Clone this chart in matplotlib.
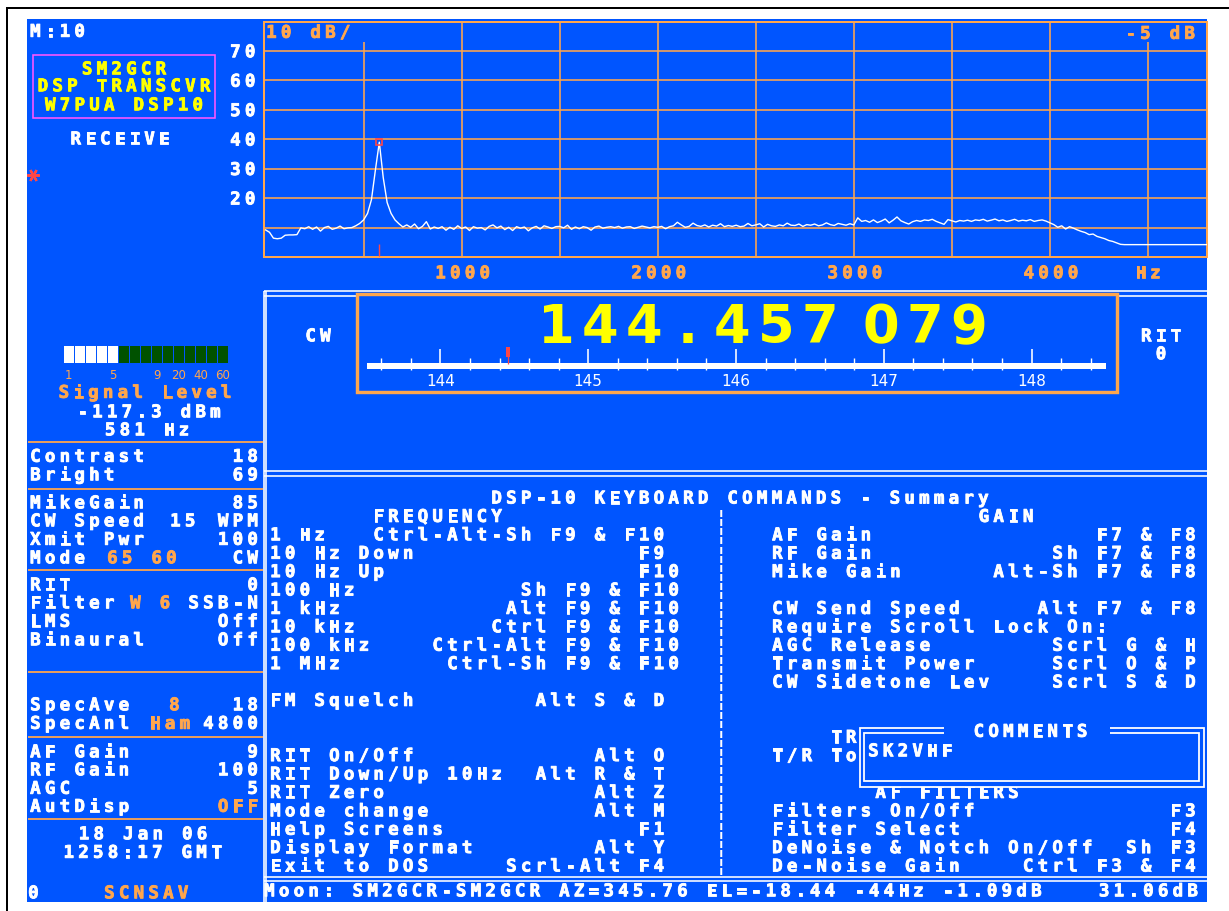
import numpy as np
import matplotlib
matplotlib.use("Agg")
import matplotlib.pyplot as plt
from matplotlib.patches import Rectangle
import matplotlib.patheffects as pe

# ---------------- data ----------------
spec_start_hz = 0
spec_step_hz = 20
spec_levels_db = [
    9.2, 8.4, 6.4, 6.2, 6.4, 7.4, 7.5, 7.5, 7.6, 9.9,
    9.6, 10.3, 9.4, 10.2, 8.8, 10.0, 10.4, 9.4, 9.8, 10.5,
    9.6, 9.9, 10.0, 10.6, 11.4, 12.6, 14.8, 19.5, 29.5, 39.0,
    27.0, 18.5, 14.8, 12.6, 11.3, 10.2, 10.9, 10.1, 11.2, 9.6,
    10.4, 12.0, 9.5, 10.2, 9.7, 10.3, 9.1, 10.1, 9.4, 10.6,
    9.7, 10.2, 9.0, 10.3, 9.8, 10.0, 9.2, 10.4, 10.9, 9.9,
    10.5, 9.3, 10.1, 9.0, 10.3, 9.8, 10.2, 8.9, 9.9, 10.4,
    9.5, 10.6, 10.2, 9.7, 10.3, 10.4, 9.9, 10.8, 9.4, 10.2,
    9.6, 10.3, 10.0, 9.1, 10.2, 10.5, 9.8, 10.1, 10.3, 10.0,
    10.4, 9.8, 10.2, 10.3, 9.7, 10.1, 10.5, 10.2, 9.9, 10.3,
    10.1, 10.4, 9.6, 10.3, 10.6, 11.8, 10.9, 10.1, 10.4, 11.5,
    10.7, 10.4, 10.9, 10.2, 10.8, 10.5, 11.3, 10.3, 10.7, 10.4,
    10.8, 10.3, 10.5, 11.4, 10.6, 10.9, 11.3, 10.2, 11.1, 10.6,
    10.4, 10.9, 10.6, 11.5, 10.8, 10.7, 11.2, 10.4, 11.0, 10.8,
    11.2, 10.6, 10.9, 11.6, 11.0, 10.7, 11.4, 11.1, 10.8, 11.3,
    10.9, 13.3, 12.1, 12.4, 11.8, 12.6, 11.7, 12.2, 12.9, 11.6,
    12.5, 13.6, 12.3, 11.7, 11.2, 12.0, 12.4, 12.1, 12.6, 12.4,
    12.8, 12.1, 11.6, 11.1, 12.7, 12.3, 11.9, 12.4, 12.2, 12.5,
    12.1, 12.6, 12.4, 12.8, 12.2, 12.5, 12.9, 12.3, 12.6, 12.1,
    12.4, 12.8, 12.2, 12.5, 12.3, 12.7, 12.1, 12.4, 12.6, 12.2,
    11.6, 11.0, 10.1, 10.6, 9.5, 10.3, 9.8, 9.2, 8.7, 8.3,
    7.6, 7.8, 7.0, 6.6, 6.2, 5.6, 5.3, 4.8, 4.3, 4.2,
    4.2, 4.2, 4.2, 4.2, 4.2, 4.2, 4.2, 4.2, 4.2, 4.2,
    4.2, 4.2, 4.2, 4.2, 4.2, 4.2, 4.2, 4.2, 4.2, 4.2,
    4.2,
]
peak_hz = 581
peak_db = 39.0
spec_hz_range = (-8, 4801)
spec_db_range = (0, 80)
db_grid = [10, 20, 30, 40, 50, 60, 70]
db_labels = [20, 30, 40, 50, 60, 70]
hz_grid = [500, 1000, 1500, 2000, 2500, 3000, 3500, 4000, 4500]
hz_labels = [1000, 2000, 3000, 4000]

band_range = (143.5, 148.5)
band_labels = [144, 145, 146, 147, 148]
band_minor = [143.6, 143.8, 144.2, 144.4, 144.6, 144.8, 145.2, 145.4, 145.6, 145.8,
              146.2, 146.4, 146.6, 146.8, 147.2, 147.4, 147.6, 147.8, 148.2, 148.4]
tuned_mhz = 144.457079
freq_text = "144.457 079"

meter_segments = 15
meter_lit = 5
meter_label_text = ["1", "5", "9", "20", "40", "60"]
meter_label_idx = [0, 4, 8, 10, 12, 14]

# ---------------- style ----------------
W, H, DPI = 1229, 912, 100
BLUE = "#0055FF"
ORANGE = "#FFA64D"
WHITE = "#FFFFFF"
YELLOW = "#FFFF00"
MAGENTA = "#FF55FF"
RED = "#FF4646"
DKGREEN = "#005200"
PITCH = 14.75
FS = 12.6
CAP = 12.6
PX = 0.72  # px -> pt

fig = plt.figure(figsize=(W / DPI, H / DPI), dpi=DPI, facecolor="white")


def px_axes(x0, y0, x1, y1, z):
    a = fig.add_axes([x0 / W, 1 - y1 / H, (x1 - x0) / W, (y1 - y0) / H])
    a.set_zorder(z)
    return a


bg = px_axes(0, 0, W, H, 0)
bg.set_xlim(0, W); bg.set_ylim(H, 0); bg.axis("off")
ov = px_axes(0, 0, W, H, 5)
ov.set_xlim(0, W); ov.set_ylim(H, 0); ov.axis("off")
ov.patch.set_visible(False)

# background + frame
bg.add_patch(Rectangle((27, 20), 1180, 883, fc=BLUE, ec="none", zorder=0))
bg.plot([7, 7], [9, 912], color="black", lw=2 * PX, zorder=1)
bg.plot([7, 1229], [9, 9], color="black", lw=2 * PX, zorder=1)

# panel lines
lw_line = 1.6 * PX
bg.hlines([291.5, 296.5], 264, 1207, color=WHITE, lw=lw_line, zorder=1)
bg.hlines([472, 477], 264, 1207, color=WHITE, lw=lw_line, zorder=1)
bg.hlines([878.5, 882], 264, 1207, color=WHITE, lw=lw_line, zorder=1)
bg.vlines([263.5, 266.3], 291.5, 903, color=WHITE, lw=lw_line, zorder=1)
bg.hlines([443, 490, 571, 673, 738, 820], 28, 263, color=ORANGE, lw=1.8 * PX, zorder=1)
bg.add_patch(Rectangle((357, 295), 760, 98, fc=BLUE, ec=ORANGE, lw=3.4 * PX, zorder=2))
bg.add_patch(Rectangle((33, 55.5), 182, 63.5, fill=False, ec=MAGENTA, lw=1.6 * PX, zorder=2))


# ---------------- text helpers ----------------
def cells(x0, yc, s, color=WHITE, z=5, ax=None):
    ax = ax or ov
    for i, ch in enumerate(s):
        if ch == " ":
            continue
        t = ax.text(x0 + (i + 0.5) * PITCH, yc + CAP / 2, ch, color=color, fontsize=FS,
                    family="DejaVu Sans Mono", weight="bold", ha="center", va="baseline",
                    zorder=z)
        t.set_path_effects([pe.withStroke(linewidth=0.6, foreground=color)])


def cells_r(xr, yc, s, color=WHITE, z=5):
    cells(xr - len(s) * PITCH, yc, s, color, z)


def cells_c(xc, yc, s, color=WHITE, z=5):
    cells(xc - len(s) * PITCH / 2, yc, s, color, z)


def to_px(ax, x, y):
    dx, dy = ax.transData.transform((x, y))
    return dx, H - dy


# ---------------- spectrum ----------------
ax = px_axes(264, 22.5, 1207, 258, 2)
ax.set_facecolor("none")
ax.set_xlim(*spec_hz_range)
ax.set_ylim(*spec_db_range)
ax.set_xticks([]); ax.set_yticks([])
for sp in ax.spines.values():
    sp.set_color(ORANGE); sp.set_linewidth(2.0 * PX)
ax.hlines(db_grid, *spec_hz_range, color=ORANGE, lw=1.6 * PX, zorder=1)
ax.vlines(hz_grid, *spec_db_range, color=ORANGE, lw=1.6 * PX, zorder=1)
# cleared text strips at top of the plot
ax.add_patch(Rectangle((266, 24), 104, 19, transform=bg.transData, fc=BLUE, ec="none", zorder=2))
ax.add_patch(Rectangle((1120, 24), 85, 19, transform=bg.transData, fc=BLUE, ec="none", zorder=2))
freqs = spec_start_hz + spec_step_hz * np.arange(len(spec_levels_db))
ax.plot(freqs, spec_levels_db, color=WHITE, lw=1.0, zorder=3)
ax.plot([peak_hz], [peak_db], marker="s", ms=4.5, mfc="none", mec=RED, mew=1.2, zorder=4)
ax.vlines([peak_hz], 0.4, 4.4, color=RED, lw=1.4 * PX, zorder=4)

cells(264, 32.5, "10 dB/", ORANGE)
cells_r(1197, 33.5, "-5 dB", ORANGE)
for v in db_labels:
    _, yp = to_px(ax, 0, v)
    cells_r(257.5, yp, str(v))
for v in hz_labels:
    xp, _ = to_px(ax, v, 0)
    cells_c(xp + 1, 273, str(v), ORANGE)
xp, _ = to_px(ax, 4500, 0)
cells_c(xp, 273, "Hz", ORANGE)

# ---------------- band scale ----------------
axb = px_axes(366.5, 340, 1105.5, 392, 2)
axb.set_facecolor("none")
axb.set_xlim(*band_range)
axb.set_ylim(392, 340)
axb.axis("off")
axb.add_patch(Rectangle((band_range[0], 364), band_range[1] - band_range[0], 6, fc=WHITE, ec="none"))
axb.vlines(band_labels, 350, 368, color=WHITE, lw=1.6 * PX)
axb.vlines(band_minor, 359, 371, color=WHITE, lw=1.4 * PX)
for b in band_labels:
    axb.text(b, 386, str(b), color=WHITE, fontsize=11, family="DejaVu Sans",
             ha="center", va="baseline")
axb.add_patch(Rectangle((tuned_mhz - 0.013, 348), 0.026, 10, fc=RED, ec="none", zorder=3))
axb.vlines([tuned_mhz], 357, 365, color=RED, lw=0.9, zorder=3)

# big frequency readout
cx = 556
first = True
for ch in freq_text:
    if ch == " ":
        cx += 17
        continue
    if not first:
        cx += 44
    first = False
    ov.text(cx, 343, ch, color=YELLOW, fontsize=38, family="DejaVu Sans",
            weight="bold", ha="center", va="baseline", zorder=5)
cells_c(318, 336, "CW")
cells_c(1161, 336, "RIT")
cells_c(1161, 354, "0")

# ---------------- S-meter ----------------
axm = px_axes(63.3, 347, 228.3, 364, 2)
axm.set_facecolor("none")
axm.set_xlim(0, meter_segments); axm.set_ylim(0, 1)
axm.axis("off")
seg_idx = np.arange(meter_segments)
axm.bar(seg_idx + 0.5, np.ones(meter_segments), width=10 / 11,
        color=[WHITE if i < meter_lit else DKGREEN for i in seg_idx])
for t, i in zip(meter_label_text, meter_label_idx):
    xp, _ = to_px(axm, i + 0.5, 0)
    ov.text(xp, 379.5, t, color=ORANGE, fontsize=8.5, family="DejaVu Sans",
            ha="center", va="baseline", zorder=5)

# ---------------- left panel ----------------
cells(28, 31.5, "M:10")
cells_c(124, 69, "SM2GCR", YELLOW)
cells_c(124, 86, "DSP TRANSCVR", YELLOW)
cells_c(124, 105, "W7PUA DSP10", YELLOW)
cells_c(120, 139, "RECEIVE")
ov.plot([33], [176], marker=(6, 2, 90), ms=9, color=RED, mew=1.6, zorder=5)

cells_c(145, 392.5, "Signal Level", ORANGE)
cells_c(149, 412, "-117.3 dBm")
cells_c(147, 430, "581 Hz")

R = 260
left_rows = [
    (456.5, "Contrast", [("r", "18", WHITE)]),
    (475, "Bright", [("r", "69", WHITE)]),
    (503, "MikeGain", [("r", "85", WHITE)]),
    (521, "CW Speed", [(168, "15", WHITE), ("r", "WPM", WHITE)]),
    (539.5, "Xmit Pwr", [("r", "100", WHITE)]),
    (558, "Mode", [(105, "65 60", ORANGE), ("r", "CW", WHITE)]),
    (585, "RIT", [("r", "0", WHITE)]),
    (603, "Filter", [(128, "W 6", ORANGE), ("r", "SSB-N", WHITE)]),
    (621.5, "LMS", [("r", "Off", WHITE)]),
    (640, "Binaural", [("r", "Off", WHITE)]),
    (705, "SpecAve", [(167, "8", ORANGE), ("r", "18", WHITE)]),
    (723.5, "SpecAnl", [(148, "Ham", ORANGE), ("r", "4800", WHITE)]),
    (752, "AF Gain", [("r", "9", WHITE)]),
    (770, "RF Gain", [("r", "100", WHITE)]),
    (788.5, "AGC", [("r", "5", WHITE)]),
    (806.5, "AutDisp", [("r", "OFF", ORANGE)]),
]
for y, lab, vals in left_rows:
    cells(28, y, lab)
    for pos, s, c in vals:
        if pos == "r":
            cells_r(R, y, s, c)
        else:
            cells(pos, y, s, c)
cells_c(143, 834, "18 Jan 06")
cells_c(142.5, 852.5, "1258:17 GMT")
cells(26, 893, "0")
cells(102, 893, "SCNSAV", ORANGE)

# ---------------- keyboard summary ----------------
LX, RX = 268, 770


def row_y(r):
    return 535 + r * 18.4


cells(LX + 15 * PITCH, row_y(-2), "DSP-10 KEYBOARD COMMANDS - Summary")
cells(LX + 7 * PITCH, row_y(-1), "FREQUENCY")
cells(RX + 14 * PITCH, row_y(-1), "GAIN")

kb_left = [
    (0, "1 Hz", 7, "Ctrl-Alt-Sh F9 & F10"),
    (1, "10 Hz Down", 25, "F9"),
    (2, "10 Hz Up", 25, "F10"),
    (3, "100 Hz", 17, "Sh F9 & F10"),
    (4, "1 kHz", 16, "Alt F9 & F10"),
    (5, "10 kHz", 15, "Ctrl F9 & F10"),
    (6, "100 kHz", 11, "Ctrl-Alt F9 & F10"),
    (7, "1 MHz", 12, "Ctrl-Sh F9 & F10"),
    (9, "FM Squelch", 18, "Alt S & D"),
    (12, "RIT On/Off", 22, "Alt O"),
    (13, "RIT Down/Up 10Hz", 18, "Alt R & T"),
    (14, "RIT Zero", 22, "Alt Z"),
    (15, "Mode change", 22, "Alt M"),
    (16, "Help Screens", 25, "F1"),
    (17, "Display Format", 22, "Alt Y"),
    (18, "Exit to DOS", 16, "Scrl-Alt F4"),
]
kb_right = [
    (0, "AF Gain", 22, "F7 & F8"),
    (1, "RF Gain", 19, "Sh F7 & F8"),
    (2, "Mike Gain", 15, "Alt-Sh F7 & F8"),
    (4, "CW Send Speed", 18, "Alt F7 & F8"),
    (5, "Require Scroll Lock On:", 0, ""),
    (6, "AGC Release", 19, "Scrl G & H"),
    (7, "Transmit Power", 19, "Scrl O & P"),
    (8, "CW Sidetone Lev", 19, "Scrl S & D"),
    (11, "    TRANSMIT", 0, ""),
    (12, "T/R Toggle", 0, ""),
    (14, "       AF FILTERS", 0, ""),
    (15, "Filters On/Off", 27, "F3"),
    (16, "Filter Select", 27, "F4"),
    (17, "DeNoise & Notch On/Off", 24, "Sh F3"),
    (18, "De-Noise Gain", 17, "Ctrl F3 & F4"),
]
for x0, rows in ((LX, kb_left), (RX, kb_right)):
    for r, lab, col, key in rows:
        cells(x0, row_y(r), lab)
        if key:
            cells(x0 + col * PITCH, row_y(r), key)
for r in range(-1, 19):
    ov.text(720.5, row_y(r) + CAP / 2, "\u00a6", color=WHITE, fontsize=FS,
            family="DejaVu Sans Mono", weight="bold", ha="center", va="baseline", zorder=5)

# comments box
ov.add_patch(Rectangle((860, 729), 344, 59, fc=BLUE, ec="none", zorder=7))
ov.add_patch(Rectangle((860, 729), 344, 59, fill=False, ec=WHITE, lw=1.8 * PX, zorder=7.5))
ov.add_patch(Rectangle((864, 734), 335, 48, fill=False, ec=WHITE, lw=1.8 * PX, zorder=7.5))
ov.add_patch(Rectangle((944, 726), 166, 10, fc=BLUE, ec="none", zorder=7.6))
cells_c(1030.5, 731.5, "COMMENTS", z=8)
cells(866, 751, "SK2VHF", z=8)

# status line
cells(262, 891, "Moon: SM2GCR-SM2GCR AZ=345.76 EL=-18.44 -44Hz -1.09dB")
cells_r(1200, 891, "31.06dB")

fig.savefig("out.png", dpi=DPI, facecolor="white")
